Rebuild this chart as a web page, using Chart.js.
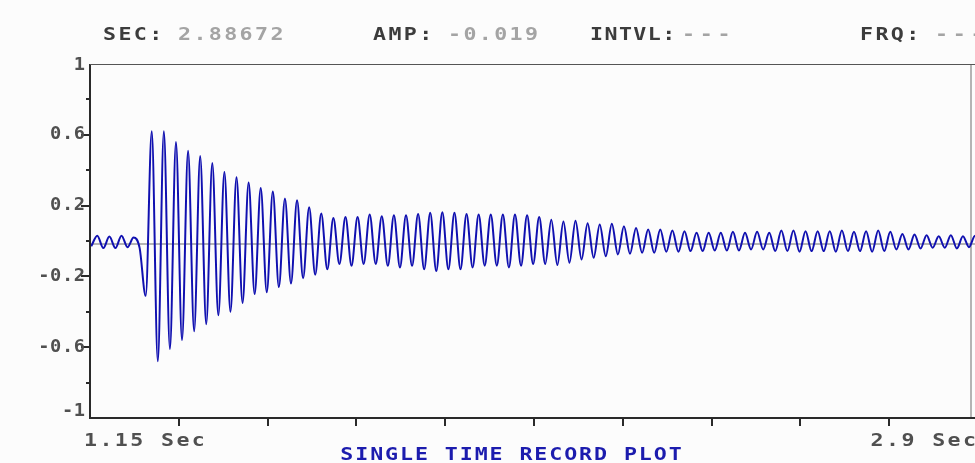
<!DOCTYPE html>
<html>
<head>
<meta charset="utf-8">
<title>Single time record plot</title>
<script src="https://cdn.jsdelivr.net/npm/chart.js@4"></script>
<style>
  html, body { margin: 0; padding: 0; background: #fcfcfc; overflow: hidden; }
</style>
</head>
<body>
<canvas id="record" width="990" height="463"></canvas>
<script>
// cursor readout (top line)
const cursorSec = 2.88672;
const cursorAmp = -0.019;

// sample clock: one sample every half cycle
const startSec = 1.1524;
const stepSec = 0.01193;

// small ringing before the hit, last value is the first dip of the hit
const preOnset = [-0.03, 0.03, -0.04, 0.025, -0.04, 0.03, -0.035, 0.02, -0.04, -0.31];

// tops of each cycle after the hit
const peaks = [
  0.62, 0.62, 0.56, 0.51, 0.48, 0.44, 0.39, 0.36, 0.33, 0.30,
  0.28, 0.24, 0.23, 0.19, 0.155, 0.13, 0.135, 0.135, 0.15, 0.14,
  0.145, 0.145, 0.153, 0.16, 0.163, 0.16, 0.153, 0.15, 0.15, 0.15,
  0.15, 0.145, 0.135, 0.12, 0.11, 0.115, 0.10, 0.093, 0.097, 0.083,
  0.074, 0.065, 0.065, 0.059, 0.055, 0.046, 0.046, 0.046, 0.052, 0.046,
  0.052, 0.046, 0.059, 0.059, 0.055, 0.055, 0.055, 0.059, 0.052, 0.055,
  0.059, 0.052, 0.04, 0.037, 0.033, 0.027, 0.033, 0.027, 0.03
];
// bottoms of each cycle after the hit
const troughs = [
  -0.68, -0.61, -0.56, -0.51, -0.47, -0.42, -0.40, -0.35, -0.30, -0.29,
  -0.26, -0.24, -0.21, -0.19, -0.16, -0.13, -0.14, -0.13, -0.13, -0.14,
  -0.15, -0.14, -0.16, -0.17, -0.16, -0.16, -0.15, -0.14, -0.14, -0.15,
  -0.14, -0.13, -0.13, -0.136, -0.123, -0.104, -0.095, -0.086, -0.076, -0.072,
  -0.067, -0.067, -0.061, -0.061, -0.057, -0.057, -0.054, -0.054, -0.054, -0.048,
  -0.048, -0.057, -0.057, -0.061, -0.057, -0.057, -0.061, -0.057, -0.057, -0.061,
  -0.057, -0.048, -0.048, -0.042, -0.038, -0.038, -0.042, -0.035, -0.035
];

const yLabels = [1, 0.6, 0.2, -0.2, -0.6, -1];
const yMinor = [0.8, 0.4, 0, -0.4, -0.8];
const xFirst = 1.15;
const xLast = 2.9;
const xTicks = [1.325, 1.5, 1.675, 1.85, 2.025, 2.2, 2.375, 2.55, 2.725];

const amps = preOnset.slice();
peaks.forEach((p, n) => { amps.push(p, troughs[n]); });
const points = amps.map((v, i) => ({ x: startSec + i * stepSec, y: v }));

const MONO = '"DejaVu Sans Mono", "Liberation Mono", monospace';

// old terminal style text: wide glyphs, extra gap between letters
function spacedText(ctx, txt, x, y, align, spacing, sx) {
  ctx.save();
  ctx.letterSpacing = spacing + 'px';
  const w = (ctx.measureText(txt).width - spacing) * sx;
  let left = x;
  if (align === 'right') left = x - w;
  if (align === 'center') left = x - w / 2;
  ctx.textAlign = 'left';
  ctx.translate(left, y);
  ctx.scale(sx, 1);
  ctx.fillText(txt, 0, 0);
  ctx.restore();
}

const framePlugin = {
  id: 'frame',
  beforeDraw(chart) {
    const ctx = chart.ctx;
    ctx.save();
    ctx.fillStyle = '#fcfcfc';
    ctx.fillRect(0, 0, chart.width, chart.height);
    ctx.restore();
  },
  beforeDatasetsDraw(chart) {
    // cursor cross
    const ctx = chart.ctx, a = chart.chartArea;
    const xs = chart.scales.x, ys = chart.scales.y;
    ctx.save();
    ctx.strokeStyle = '#b4b4b4';
    ctx.lineWidth = 2;
    const cy = Math.round(ys.getPixelForValue(cursorAmp));
    const cx = Math.round(xs.getPixelForValue(cursorSec));
    ctx.beginPath();
    ctx.moveTo(a.left, cy); ctx.lineTo(a.right, cy);
    ctx.moveTo(cx, a.top); ctx.lineTo(cx, a.bottom);
    ctx.stroke();
    ctx.restore();
  },
  afterDraw(chart) {
    const ctx = chart.ctx, a = chart.chartArea;
    const xs = chart.scales.x, ys = chart.scales.y;
    ctx.save();

    // axes
    ctx.strokeStyle = '#2a2a2a';
    ctx.lineWidth = 2;
    ctx.beginPath();
    ctx.moveTo(a.left, a.top); ctx.lineTo(a.left, a.bottom); ctx.lineTo(a.right, a.bottom);
    ctx.stroke();
    ctx.lineWidth = 1;
    ctx.strokeStyle = '#555555';
    ctx.beginPath();
    ctx.moveTo(a.left, a.top + 0.5); ctx.lineTo(a.right, a.top + 0.5);
    ctx.stroke();

    ctx.strokeStyle = '#2a2a2a';
    ctx.lineWidth = 2;
    ctx.beginPath();
    yLabels.forEach(v => {
      if (Math.abs(v) === 1) return;
      const py = Math.round(ys.getPixelForValue(v));
      ctx.moveTo(a.left - 9, py); ctx.lineTo(a.left, py);
    });
    yMinor.forEach(v => {
      const py = Math.round(ys.getPixelForValue(v));
      ctx.moveTo(a.left - 4, py); ctx.lineTo(a.left, py);
    });
    xTicks.forEach(v => {
      const px = Math.round(xs.getPixelForValue(v));
      ctx.moveTo(px, a.bottom); ctx.lineTo(px, a.bottom + 8);
    });
    ctx.stroke();

    // y labels
    ctx.fillStyle = '#505050';
    ctx.font = 'bold 17px ' + MONO;
    ctx.textBaseline = 'middle';
    yLabels.forEach(v => {
      let py = ys.getPixelForValue(v);
      py = Math.min(Math.max(py, 66), 412);
      spacedText(ctx, String(v), a.left - 5, py, 'right', 0.5, 1.1);
    });

    // x labels
    ctx.font = 'bold 18px ' + MONO;
    spacedText(ctx, xFirst + ' Sec', xs.getPixelForValue(xFirst) - 6, 441, 'left', 2, 1.2);
    spacedText(ctx, xLast + ' Sec', xs.getPixelForValue(xLast) - 2, 441, 'right', 2, 1.2);

    // header readout
    const head = [
      ['SEC:', 103, '#3c3c3c', 2], [String(cursorSec), 178, '#a4a4a4', 2],
      ['AMP:', 373, '#3c3c3c', 2], [cursorAmp.toFixed(3), 448, '#a4a4a4', 2],
      ['INTVL:', 590, '#3c3c3c', 1.2], ['---', 682, '#a4a4a4', 4],
      ['FRQ:', 860, '#3c3c3c', 2], ['---', 935, '#a4a4a4', 4]
    ];
    head.forEach(h => {
      ctx.fillStyle = h[2];
      spacedText(ctx, h[0], h[1], 35, 'left', h[3], 1.2);
    });

    // title
    ctx.fillStyle = '#1c1cae';
    spacedText(ctx, 'SINGLE TIME RECORD PLOT', 511, 455, 'center', 1.6, 1.2);
    ctx.restore();
  }
};

new Chart(document.getElementById('record'), {
  type: 'line',
  data: {
    datasets: [{
      data: points,
      borderColor: '#1010b0',
      borderWidth: 2,
      pointRadius: 0,
      cubicInterpolationMode: 'monotone',
      fill: false
    }]
  },
  options: {
    responsive: false,
    animation: false,
    events: [],
    layout: { padding: { left: 90, top: 64, right: 12, bottom: 45 } },
    plugins: { legend: { display: false }, tooltip: { enabled: false } },
    scales: {
      x: { type: 'linear', min: xFirst, max: xLast, display: false },
      y: { min: -1, max: 1, display: false }
    }
  },
  plugins: [framePlugin]
});
</script>
</body>
</html>
